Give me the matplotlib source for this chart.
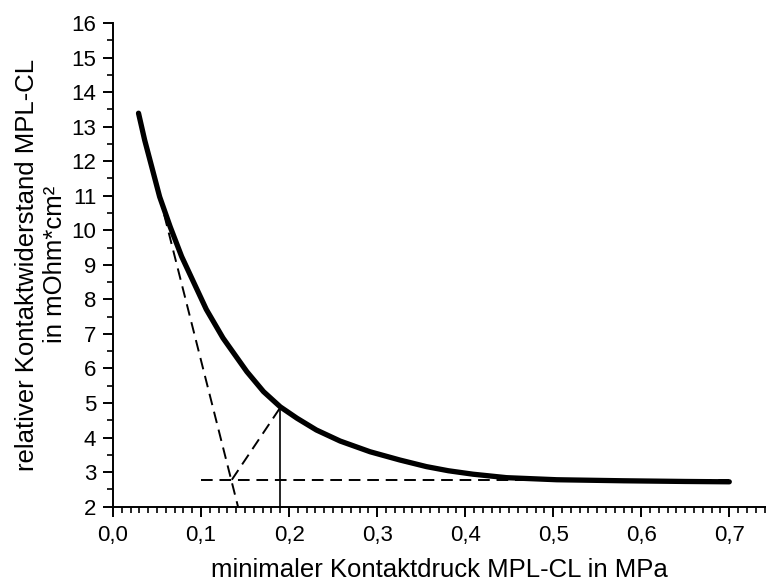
import numpy as np
import matplotlib.pyplot as plt
from matplotlib.ticker import MultipleLocator

plt.rcParams['font.family'] = ['Liberation Sans', 'DejaVu Sans']

# Messkurve
druck = [0.029, 0.036, 0.044, 0.053, 0.065, 0.078, 0.093, 0.106, 0.125,
         0.135, 0.152, 0.171, 0.190, 0.209, 0.231, 0.258, 0.292, 0.326,
         0.356, 0.381, 0.409, 0.447, 0.504, 0.580, 0.650, 0.700]
widerstand = [13.39, 12.61, 11.84, 10.97, 10.10, 9.24, 8.42, 7.71, 6.88,
              6.52, 5.91, 5.33, 4.89, 4.56, 4.22, 3.90, 3.59, 3.35,
              3.16, 3.04, 2.94, 2.84, 2.78, 2.75, 2.73, 2.72]

# Hilfslinien (Tangente, Asymptote, Schnittpunkt)
tangente_x = [0.053, 0.142]
tangente_y = [10.97, 2.0]
asymptote_x = [0.10, 0.70]
asymptote_y = [2.78, 2.78]
diagonale_x = [0.135, 0.190]
diagonale_y = [2.78, 4.87]
senkrecht_x = [0.190, 0.190]
senkrecht_y = [2.0, 4.87]

xticks = [0.0, 0.1, 0.2, 0.3, 0.4, 0.5, 0.6, 0.7]
xticklabels = ['0,0', '0,1', '0,2', '0,3', '0,4', '0,5', '0,6', '0,7']
yticks = list(range(2, 17))

fig = plt.figure(figsize=(7.66, 5.83), dpi=100)
ax = fig.add_axes([0.1475, 0.1309, 0.8525, 0.8296])

dash = (0, (6, 3.5))
ax.plot(tangente_x, tangente_y, color='black', lw=1.4, linestyle=dash)
ax.plot(asymptote_x, asymptote_y, color='black', lw=1.4, linestyle=dash)
ax.plot(diagonale_x, diagonale_y, color='black', lw=1.4, linestyle=dash)
ax.plot(senkrecht_x, senkrecht_y, color='black', lw=1.2)
ax.plot(druck, widerstand, color='black', lw=3.8,
        solid_capstyle='round', solid_joinstyle='round')

ax.set_xlim(0, 0.7417)
ax.set_ylim(2, 16)
ax.set_xticks(xticks)
ax.set_xticklabels(xticklabels)
ax.set_yticks(yticks)
ax.xaxis.set_minor_locator(MultipleLocator(0.01))
ax.yaxis.set_minor_locator(MultipleLocator(0.5))

for s in ['top', 'right']:
    ax.spines[s].set_visible(False)
for s in ['left', 'bottom']:
    ax.spines[s].set_linewidth(1.4)

ax.tick_params(which='major', length=7, width=1.4, labelsize=16)
ax.tick_params(axis='x', which='major', pad=6)
ax.tick_params(axis='y', which='major', pad=5)
ax.tick_params(which='minor', length=4, width=1.2)

ax.set_xlabel('minimaler Kontaktdruck MPL-CL in MPa', fontsize=18.5, labelpad=9)
ax.set_ylabel('relativer Kontaktwiderstand MPL-CL\nin mOhm*cm²', fontsize=18.5,
              labelpad=3, linespacing=1.2)

fig.savefig('out.png', dpi=100)
